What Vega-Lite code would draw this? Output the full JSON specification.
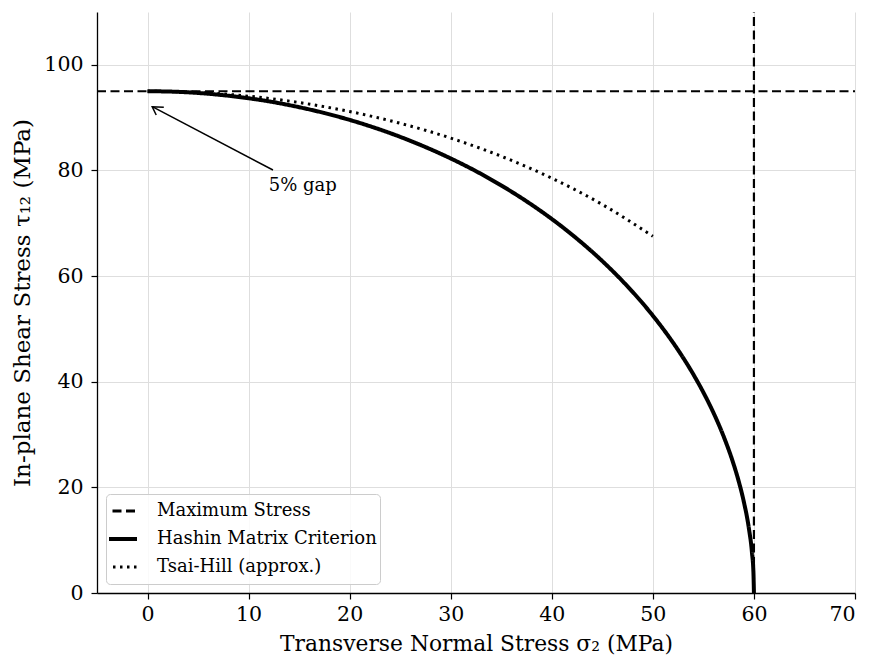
{
  "$schema": "https://vega.github.io/schema/vega-lite/v6.json",
  "width": 758,
  "height": 581,
  "autosize": {"type": "none"},
  "padding": {"left": 97, "top": 12, "right": 14, "bottom": 71},
  "background": "white",
  "config": {
    "view": {"stroke": null},
    "font": "DejaVu Serif",
    "axis": {
      "labelFont": "DejaVu Serif", "titleFont": "DejaVu Serif",
      "labelFontSize": 20.5, "titleFontSize": 21.8, "titleFontWeight": "normal",
      "labelColor": "black", "titleColor": "black",
      "domainColor": "black", "domainWidth": 1.3,
      "tickColor": "black", "tickWidth": 1.2, "tickSize": 6,
      "gridColor": "#dedede", "gridWidth": 1
    },
    "legend": {
      "orient": "bottom-left", "offset": 9, "padding": 3,
      "strokeColor": "#cccccc", "fillColor": "rgba(255,255,255,0.85)", "cornerRadius": 4,
      "symbolType": "stroke", "symbolSize": 1444, "symbolStrokeColor": "black",
      "labelFont": "DejaVu Serif", "labelFontSize": 18, "labelColor": "black",
      "labelOffset": 30, "clipHeight": 28, "rowPadding": 0, "labelLimit": 400
    }
  },
  "datasets": {
    "hline": [{"series": "Maximum Stress", "x": -5, "x2": 70, "y": 95}],
    "vline": [{"series": "Maximum Stress", "x": 60, "y": 0, "y2": 110}],
    "hashin": [
      {"series": "Hashin Matrix Criterion", "s": 0, "t": 95},
      {"series": "Hashin Matrix Criterion", "s": 2.5, "t": 94.92},
      {"series": "Hashin Matrix Criterion", "s": 5, "t": 94.67},
      {"series": "Hashin Matrix Criterion", "s": 7.5, "t": 94.25},
      {"series": "Hashin Matrix Criterion", "s": 10, "t": 93.67},
      {"series": "Hashin Matrix Criterion", "s": 12.5, "t": 92.92},
      {"series": "Hashin Matrix Criterion", "s": 15, "t": 91.98},
      {"series": "Hashin Matrix Criterion", "s": 17.5, "t": 90.87},
      {"series": "Hashin Matrix Criterion", "s": 20, "t": 89.57},
      {"series": "Hashin Matrix Criterion", "s": 22.5, "t": 88.07},
      {"series": "Hashin Matrix Criterion", "s": 25, "t": 86.36},
      {"series": "Hashin Matrix Criterion", "s": 27.5, "t": 84.43},
      {"series": "Hashin Matrix Criterion", "s": 30, "t": 82.27},
      {"series": "Hashin Matrix Criterion", "s": 32.5, "t": 79.86},
      {"series": "Hashin Matrix Criterion", "s": 35, "t": 77.16},
      {"series": "Hashin Matrix Criterion", "s": 37.5, "t": 74.16},
      {"series": "Hashin Matrix Criterion", "s": 40, "t": 70.81},
      {"series": "Hashin Matrix Criterion", "s": 41, "t": 69.36},
      {"series": "Hashin Matrix Criterion", "s": 42, "t": 67.84},
      {"series": "Hashin Matrix Criterion", "s": 43, "t": 66.25},
      {"series": "Hashin Matrix Criterion", "s": 44, "t": 64.59},
      {"series": "Hashin Matrix Criterion", "s": 45, "t": 62.84},
      {"series": "Hashin Matrix Criterion", "s": 46, "t": 60.99},
      {"series": "Hashin Matrix Criterion", "s": 47, "t": 59.05},
      {"series": "Hashin Matrix Criterion", "s": 48, "t": 57.0},
      {"series": "Hashin Matrix Criterion", "s": 49, "t": 54.83},
      {"series": "Hashin Matrix Criterion", "s": 50, "t": 52.51},
      {"series": "Hashin Matrix Criterion", "s": 51, "t": 50.04},
      {"series": "Hashin Matrix Criterion", "s": 52, "t": 47.39},
      {"series": "Hashin Matrix Criterion", "s": 53, "t": 44.53},
      {"series": "Hashin Matrix Criterion", "s": 54, "t": 41.41},
      {"series": "Hashin Matrix Criterion", "s": 55, "t": 37.97},
      {"series": "Hashin Matrix Criterion", "s": 56, "t": 34.11},
      {"series": "Hashin Matrix Criterion", "s": 57, "t": 29.66},
      {"series": "Hashin Matrix Criterion", "s": 58, "t": 24.32},
      {"series": "Hashin Matrix Criterion", "s": 58.5, "t": 21.11},
      {"series": "Hashin Matrix Criterion", "s": 59, "t": 17.27},
      {"series": "Hashin Matrix Criterion", "s": 59.5, "t": 12.24},
      {"series": "Hashin Matrix Criterion", "s": 59.8, "t": 7.75},
      {"series": "Hashin Matrix Criterion", "s": 59.95, "t": 3.88},
      {"series": "Hashin Matrix Criterion", "s": 60, "t": 0}
    ],
    "tsai": [
      {"series": "Tsai-Hill (approx.)", "s": 0, "t": 95},
      {"series": "Tsai-Hill (approx.)", "s": 5, "t": 94.76},
      {"series": "Tsai-Hill (approx.)", "s": 10, "t": 94.06},
      {"series": "Tsai-Hill (approx.)", "s": 15, "t": 92.86},
      {"series": "Tsai-Hill (approx.)", "s": 20, "t": 91.16},
      {"series": "Tsai-Hill (approx.)", "s": 25, "t": 88.93},
      {"series": "Tsai-Hill (approx.)", "s": 30, "t": 86.13},
      {"series": "Tsai-Hill (approx.)", "s": 35, "t": 82.69},
      {"series": "Tsai-Hill (approx.)", "s": 40, "t": 78.54},
      {"series": "Tsai-Hill (approx.)", "s": 45, "t": 73.55},
      {"series": "Tsai-Hill (approx.)", "s": 50, "t": 67.54}
    ],
    "arrow": [
      {"seg": "shaft", "k": 0, "x": 12.41, "y": 80.08},
      {"seg": "shaft", "k": 1, "x": 0.465, "y": 92.07},
      {"seg": "head", "k": 0, "x": 1.61, "y": 91.95},
      {"seg": "head", "k": 1, "x": 0.465, "y": 92.07},
      {"seg": "head", "k": 2, "x": 0.86, "y": 90.49}
    ],
    "note": [{"x": 12, "y": 77, "label": "5% gap"}]
  },
  "layer": [
    {
      "data": {"name": "hline"},
      "mark": {"type": "rule", "color": "black", "strokeWidth": 2.2},
      "encoding": {
        "x": {"field": "x", "type": "quantitative",
              "scale": {"domain": [-5, 70], "nice": false, "zero": false},
              "axis": {"values": [0, 10, 20, 30, 40, 50, 60, 70], "title": "Transverse Normal Stress σ₂ (MPa)", "titlePadding": 9, "labelPadding": 5}},
        "x2": {"field": "x2"},
        "y": {"field": "y", "type": "quantitative",
              "scale": {"domain": [0, 110], "nice": false},
              "axis": {"values": [0, 20, 40, 60, 80, 100], "title": "In-plane Shear Stress τ₁₂ (MPa)", "titlePadding": 9, "labelPadding": 8, "titleFontSize": 23}},
        "strokeDash": {"field": "series", "type": "nominal",
          "scale": {"domain": ["Maximum Stress", "Hashin Matrix Criterion", "Tsai-Hill (approx.)"],
                    "range": [[9, 4.5], [1, 0], [2.5, 4.5]]},
          "legend": {"title": null,
            "encode": {"symbols": {"update": {"strokeWidth": {"signal": "datum.value === 'Hashin Matrix Criterion' ? 4 : 2.8"}, "stroke": {"value": "black"}}}}}}
      }
    },
    {
      "data": {"name": "vline"},
      "mark": {"type": "rule", "color": "black", "strokeWidth": 2.2},
      "encoding": {
        "x": {"field": "x", "type": "quantitative"},
        "y": {"field": "y", "type": "quantitative"},
        "y2": {"field": "y2"},
        "strokeDash": {"field": "series", "type": "nominal"}
      }
    },
    {
      "data": {"name": "hashin"},
      "mark": {"type": "line", "color": "black", "strokeWidth": 4, "interpolate": "monotone"},
      "encoding": {
        "x": {"field": "s", "type": "quantitative"},
        "y": {"field": "t", "type": "quantitative"},
        "order": {"field": "s", "type": "quantitative"},
        "strokeDash": {"field": "series", "type": "nominal"}
      }
    },
    {
      "data": {"name": "tsai"},
      "mark": {"type": "line", "color": "black", "strokeWidth": 3, "interpolate": "monotone"},
      "encoding": {
        "x": {"field": "s", "type": "quantitative"},
        "y": {"field": "t", "type": "quantitative"},
        "order": {"field": "s", "type": "quantitative"},
        "strokeDash": {"field": "series", "type": "nominal"}
      }
    },
    {
      "data": {"name": "arrow"},
      "mark": {"type": "line", "color": "black", "strokeWidth": 1.5},
      "encoding": {
        "x": {"field": "x", "type": "quantitative"},
        "y": {"field": "y", "type": "quantitative"},
        "detail": {"field": "seg", "type": "nominal"},
        "order": {"field": "k", "type": "quantitative"}
      }
    },
    {
      "data": {"name": "note"},
      "mark": {"type": "text", "align": "left", "baseline": "middle", "font": "DejaVu Serif", "fontSize": 18, "color": "black"},
      "encoding": {
        "x": {"field": "x", "type": "quantitative"},
        "y": {"field": "y", "type": "quantitative"},
        "text": {"field": "label"}
      }
    }
  ]
}
